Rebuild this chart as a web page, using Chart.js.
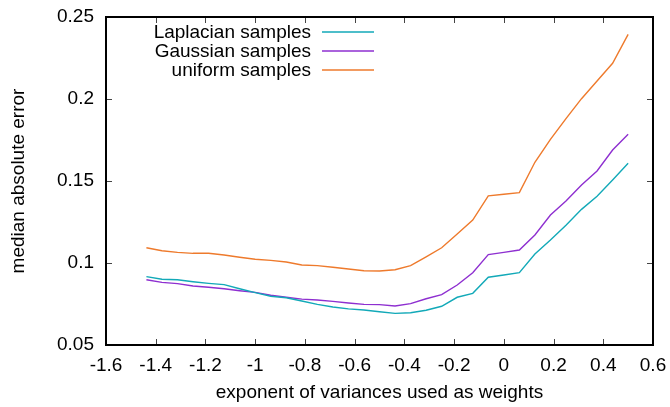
<!DOCTYPE html>
<html>
<head>
<meta charset="utf-8">
<script src="https://cdn.jsdelivr.net/npm/chart.js@4/dist/chart.umd.min.js"></script>
<style>
  html, body { margin: 0; padding: 0; background: #fff; }
  #wrap { width: 670px; height: 407px; }
</style>
</head>
<body>
<div id="wrap"><canvas id="c" width="670" height="407"></canvas></div>
<script>
// exponent values (x)
const xValues = [-1.4375, -1.375, -1.3125, -1.25, -1.1875, -1.125, -1.0625, -1.0,
  -0.9375, -0.875, -0.8125, -0.75, -0.6875, -0.625, -0.5625, -0.5,
  -0.4375, -0.375, -0.3125, -0.25, -0.1875, -0.125, -0.0625, 0.0,
  0.0625, 0.125, 0.1875, 0.25, 0.3125, 0.375, 0.4375, 0.5];
const laplacian = [0.0917, 0.0901, 0.0898, 0.0886, 0.0876, 0.0868, 0.0843, 0.0819,
  0.0797, 0.0788, 0.0768, 0.0748, 0.0732, 0.0720, 0.0713, 0.0703,
  0.0693, 0.0697, 0.0712, 0.0736, 0.0791, 0.0815, 0.0913, 0.0927,
  0.0941, 0.1055, 0.1140, 0.1230, 0.1327, 0.1407, 0.1506, 0.1608];
const gaussian = [0.0898, 0.0882, 0.0874, 0.0860, 0.0852, 0.0843, 0.0831, 0.0821,
  0.0803, 0.0791, 0.0780, 0.0774, 0.0766, 0.0756, 0.0748, 0.0746,
  0.0738, 0.0752, 0.0782, 0.0807, 0.0866, 0.0941, 0.1051, 0.1065,
  0.1079, 0.1171, 0.1293, 0.1378, 0.1476, 0.1561, 0.1689, 0.1785];
const uniform = [0.1093, 0.1075, 0.1065, 0.1059, 0.1059, 0.1049, 0.1035, 0.1023,
  0.1016, 0.1006, 0.0988, 0.0984, 0.0974, 0.0963, 0.0953, 0.0951,
  0.0959, 0.0984, 0.1038, 0.1093, 0.1177, 0.1262, 0.1409, 0.1419,
  0.1429, 0.1614, 0.1754, 0.1880, 0.2002, 0.2110, 0.2218, 0.2394];
const seriesLabels = ['Laplacian samples', 'Gaussian samples', 'uniform samples'];
const xTicks = [-1.6, -1.4, -1.2, -1.0, -0.8, -0.6, -0.4, -0.2, 0.0, 0.2, 0.4, 0.6];
const yTicks = [0.05, 0.1, 0.15, 0.2, 0.25];
const xTitle = 'exponent of variances used as weights';
const yTitle = 'median absolute error';

const FONT = 'Liberation Sans, Arial, sans-serif';
const FS = 19;
const colors = ['#12a9b8', '#8e2fd0', '#ee7a2c'];

const pts = (arr) => xValues.map((x, i) => ({ x: x, y: arr[i] }));
const fmt = (v) => String(parseFloat(v.toFixed(2)));

const frame = {
  id: 'frame',
  afterDraw(chart) {
    const ctx = chart.ctx;
    const a = chart.chartArea;
    const xs = chart.scales.x, ys = chart.scales.y;
    ctx.save();
    // inward ticks on all four sides
    ctx.strokeStyle = '#444';
    ctx.lineWidth = 1;
    const tl = 6;
    ctx.beginPath();
    xTicks.forEach(v => {
      const px = Math.round(xs.getPixelForValue(v)) + 0.5;
      ctx.moveTo(px, a.bottom); ctx.lineTo(px, a.bottom - tl);
      ctx.moveTo(px, a.top); ctx.lineTo(px, a.top + tl);
    });
    yTicks.forEach(v => {
      const py = Math.round(ys.getPixelForValue(v)) + 0.5;
      ctx.moveTo(a.left, py); ctx.lineTo(a.left + tl, py);
      ctx.moveTo(a.right, py); ctx.lineTo(a.right - tl, py);
    });
    ctx.stroke();
    // border box
    ctx.strokeStyle = '#000';
    ctx.lineWidth = 2;
    ctx.strokeRect(a.left, a.top, a.right - a.left, a.bottom - a.top);
    // legend (gnuplot style: text right-aligned, sample line to the right)
    ctx.font = FS + 'px ' + FONT;
    ctx.textAlign = 'right';
    ctx.textBaseline = 'middle';
    chart.data.datasets.forEach((ds, i) => {
      const y = 32 + i * 19;
      ctx.fillStyle = '#000';
      ctx.fillText(ds.label, 311, y + 1);
      ctx.strokeStyle = ds.borderColor;
      ctx.lineWidth = 1.5;
      ctx.beginPath();
      ctx.moveTo(322, y); ctx.lineTo(374, y);
      ctx.stroke();
    });
    ctx.restore();
  }
};

new Chart(document.getElementById('c'), {
  type: 'line',
  data: {
    datasets: [
      { label: seriesLabels[0], data: pts(laplacian), borderColor: colors[0] },
      { label: seriesLabels[1], data: pts(gaussian), borderColor: colors[1] },
      { label: seriesLabels[2], data: pts(uniform), borderColor: colors[2] }
    ].map(d => Object.assign(d, { borderWidth: 1.4, pointRadius: 0, tension: 0, fill: false }))
  },
  options: {
    responsive: false,
    animation: false,
    events: [],
    layout: { padding: { left: 0, right: 17, top: 17, bottom: 0 } },
    plugins: { legend: { display: false }, tooltip: { enabled: false } },
    scales: {
      x: {
        type: 'linear', min: -1.6, max: 0.6,
        afterBuildTicks: (s) => { s.ticks = xTicks.map(v => ({ value: v })); },
        afterFit: (s) => { s.height = 62; s.paddingLeft = 0; s.paddingRight = 0; },
        ticks: { callback: fmt, color: '#000', font: { family: FONT, size: FS }, padding: 9, maxRotation: 0, autoSkip: false },
        grid: { display: false, drawTicks: false },
        border: { display: false },
        title: { display: true, text: xTitle, color: '#000', font: { family: FONT, size: FS }, padding: { top: 0, bottom: 3 } }
      },
      y: {
        min: 0.05, max: 0.25,
        afterBuildTicks: (s) => { s.ticks = yTicks.map(v => ({ value: v })); },
        afterFit: (s) => { s.width = 106; s.paddingTop = 0; s.paddingBottom = 0; },
        ticks: { callback: fmt, color: '#000', font: { family: FONT, size: FS }, padding: 12 },
        grid: { display: false, drawTicks: false },
        border: { display: false },
        title: { display: true, text: yTitle, color: '#000', font: { family: FONT, size: FS }, padding: { top: 7, bottom: 0 } }
      }
    }
  },
  plugins: [frame]
});
</script>
</body>
</html>
